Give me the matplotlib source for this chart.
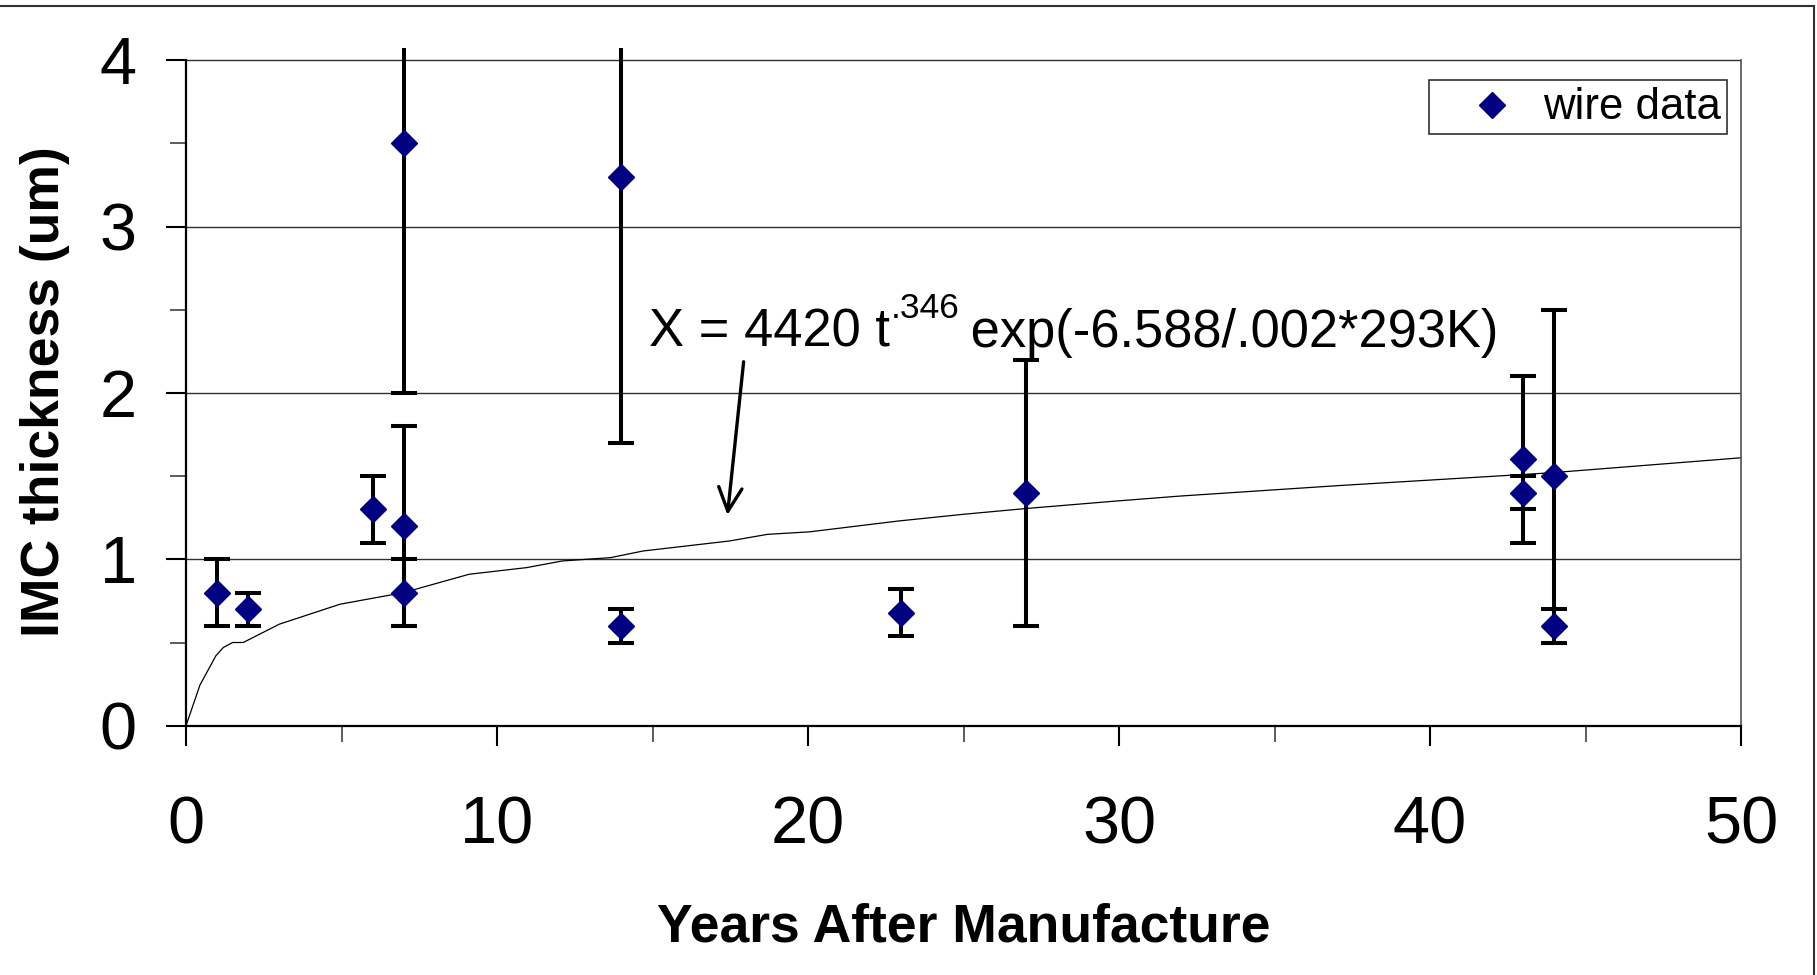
import matplotlib
matplotlib.use("Agg")
import matplotlib.pyplot as plt
from matplotlib.ticker import MultipleLocator
from matplotlib.lines import Line2D

plt.rcParams['font.family'] = ['Liberation Sans', 'DejaVu Sans']

# ---- data ----
years = [1, 2, 6, 7, 7, 7, 14, 14, 23, 27, 43, 43, 44, 44]
imc = [0.8, 0.7, 1.3, 3.5, 1.2, 0.8, 3.3, 0.6, 0.68, 1.4, 1.6, 1.4, 1.5, 0.6]
imc_err = [0.2, 0.1, 0.2, 1.5, 0.6, 0.2, 1.6, 0.1, 0.14, 0.8, 0.5, 0.1, 1.0, 0.1]

model_t = [0, 0.45, 0.96, 1.2, 1.5, 1.84, 3.0, 4.95, 7.0, 9.1, 10.95, 12.1,
           13.65, 14.7, 17.47, 18.7, 20.05, 22.9, 24.97, 27.0, 29.9, 31.96,
           37.15, 43.9, 50]
model_x = [0, 0.245, 0.42, 0.47, 0.50, 0.50, 0.61, 0.73, 0.80, 0.91, 0.95, 0.99,
           1.01, 1.05, 1.11, 1.15, 1.165, 1.23, 1.27, 1.305, 1.35, 1.38,
           1.444, 1.52, 1.61]

x_ticks = [0, 10, 20, 30, 40, 50]
y_ticks = [0, 1, 2, 3, 4]

eq_main = "X = 4420 t"
eq_sup = ".346"
eq_rest = " exp(-6.588/.002*293K)"

W, H = 1817, 975
fig = plt.figure(figsize=(W / 100, H / 100), dpi=100)

ymax = 4.07
px_per_unit = 166.4
ax_left, ax_right, ax_bottom = 186, 1741, 725.7
ax_top = ax_bottom - ymax * px_per_unit
ax = fig.add_axes([ax_left / W, 1 - ax_bottom / H, (ax_right - ax_left) / W,
                   (ax_bottom - ax_top) / H])

ax.set_xlim(0, 50)
ax.set_ylim(0, ymax)
ax.set_xticks(x_ticks)
ax.set_yticks(y_ticks)
ax.xaxis.set_minor_locator(MultipleLocator(5))
ax.yaxis.set_minor_locator(MultipleLocator(0.5))

# gridlines
ax.grid(axis='y', which='major', color='#303030', lw=1.0, zorder=0)
ax.set_axisbelow(True)

# spines
ax.spines['top'].set_visible(False)
ax.spines['left'].set_bounds(0, 4)
ax.spines['right'].set_bounds(0, 4)
ax.spines['left'].set_linewidth(1.6)
ax.spines['bottom'].set_linewidth(1.6)
ax.spines['right'].set_linewidth(1.2)
ax.spines['right'].set_color('#505050')

ax.tick_params(axis='both', which='major', direction='out', length=14.4, width=1.5,
               labelsize=48)
ax.tick_params(axis='both', which='minor', direction='out', length=11.5, width=1.2,
               color='#404040')
ax.tick_params(axis='y', which='major', pad=21)
ax.tick_params(axis='x', which='major', pad=36)

# model curve
ax.plot(model_t, model_x, color='black', lw=0.9, zorder=2)

# error bars and markers
ax.errorbar(years, imc, yerr=imc_err, fmt='none', ecolor='black', elinewidth=2.9,
            capsize=9.2, capthick=2.9, zorder=3)
ax.plot(years, imc, linestyle='none', marker='D', ms=13, color='#000080',
        mec='#000080', label='wire data', zorder=4)

# annotation (equation with superscript, built from three text pieces)
renderer = fig.canvas.get_renderer()
eq_x, eq_y = 14.89, 2.278
t1 = ax.text(eq_x, eq_y, eq_main, fontsize=37.8, ha='left', va='baseline', zorder=5)
w1 = t1.get_window_extent(renderer).width * 72 / 100
t2 = ax.annotate(eq_sup, xy=(eq_x, eq_y), xycoords='data',
                 xytext=(w1 + 0.3, 20.4), textcoords='offset points',
                 fontsize=25.5, ha='left', va='baseline', zorder=5)
w2 = t2.get_window_extent(renderer).width * 72 / 100
ax.annotate(eq_rest, xy=(eq_x, eq_y), xycoords='data',
            xytext=(w1 + 0.3 + w2 - 2, 0), textcoords='offset points',
            fontsize=37.8, ha='left', va='baseline', zorder=5)

ax.annotate('', xy=(17.41, 1.266), xytext=(17.93, 2.187),
            arrowprops=dict(arrowstyle='->,head_length=0.85,head_width=0.42',
                            mutation_scale=20, lw=2.4, color='black',
                            shrinkA=0, shrinkB=0), zorder=5)

# axis labels
ax.set_xlabel('Years After Manufacture', fontsize=38.5, fontweight='bold')
ax.xaxis.label.set_va('baseline')
ax.xaxis.set_label_coords(0.5, (ax_bottom - 941.7) / (ax_bottom - ax_top))
ax.set_ylabel('IMC thickness (um)', fontsize=38.5, fontweight='bold')
ax.yaxis.label.set_va('baseline')
ax.yaxis.set_label_coords((58.5 - ax_left) / (ax_right - ax_left),
                          (ax_bottom - 392) / (ax_bottom - ax_top))

# legend
leg = ax.legend(loc='upper right', bbox_to_anchor=(1727 / W, 1 - 80 / H),
                bbox_transform=fig.transFigure, fontsize=31.5, frameon=True,
                fancybox=False, framealpha=1, edgecolor='#303030',
                borderpad=0.15, handlelength=2.6, handletextpad=-0.15,
                borderaxespad=0, numpoints=1, handleheight=0.5)
leg.get_frame().set_linewidth(1.2)

# outer chart frame (top and right visible)
fig.add_artist(Line2D([0, 1814 / W], [1 - 6 / H, 1 - 6 / H], transform=fig.transFigure,
                      color='#303030', lw=1.5))
fig.add_artist(Line2D([1814 / W, 1814 / W], [1 - 6 / H, 0], transform=fig.transFigure,
                      color='#303030', lw=1.5))

fig.savefig('out.png', dpi=100)
